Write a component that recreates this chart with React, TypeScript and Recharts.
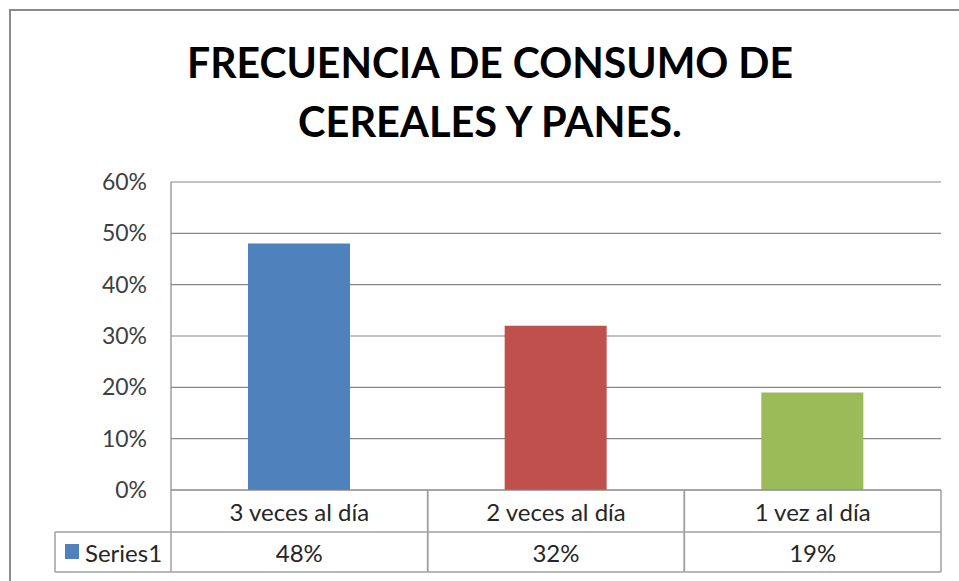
import { BarChart, Bar, XAxis, YAxis, CartesianGrid, Cell } from 'recharts';

const categories = ['3 veces al día', '2 veces al día', '1 vez al día'];
const values = [0.48, 0.32, 0.19];
const barColors = ['#4F81BD', '#C0504D', '#9BBB59'];
const yTicks = [0, 0.1, 0.2, 0.3, 0.4, 0.5, 0.6];
const seriesName = 'Series1';
const titleLines = ['FRECUENCIA DE CONSUMO DE', 'CEREALES Y PANES.'];

const data = categories.map((name, i) => ({ name, value: values[i] }));

const W = 959;
const H = 581;
const PLOT_LEFT = 171;
const PLOT_RIGHT = 941;
const PLOT_TOP = 182;
const PLOT_BOTTOM = 490;
const ROW1 = 532;
const ROW2 = 572;
const LEGEND_LEFT = 55;
const FONT = 'Lato, "Open Sans", sans-serif';
const TABLE_LINE = '#a0a0a0';
const TABLE_FONT = 24;

const pct = (v: number) => `${Math.round(v * 100)}%`;

// one column of the data table under each category
function TableTick(props: any) {
  const { x, payload } = props;
  const idx = payload.index;
  const w = (PLOT_RIGHT - PLOT_LEFT) / categories.length;
  const left = x - w / 2;
  const right = x + w / 2;
  return (
    <g>
      <line x1={left} y1={PLOT_BOTTOM} x2={left} y2={ROW2} stroke={TABLE_LINE} strokeWidth={1.5} />
      <line x1={right} y1={PLOT_BOTTOM} x2={right} y2={ROW2} stroke={TABLE_LINE} strokeWidth={1.5} />
      <line x1={left} y1={ROW1} x2={right} y2={ROW1} stroke={TABLE_LINE} strokeWidth={1.5} />
      <line x1={left} y1={ROW2} x2={right} y2={ROW2} stroke={TABLE_LINE} strokeWidth={1.5} />
      <text x={x} y={511} textAnchor="middle" dominantBaseline="central" fontFamily={FONT} fontSize={TABLE_FONT} fill="#262626">
        {payload.value}
      </text>
      <text x={x} y={552} textAnchor="middle" dominantBaseline="central" fontFamily={FONT} fontSize={TABLE_FONT} fill="#262626">
        {pct(values[idx])}
      </text>
      {idx === 0 && (
        <g>
          <line x1={LEGEND_LEFT} y1={ROW1} x2={left} y2={ROW1} stroke={TABLE_LINE} strokeWidth={1.5} />
          <line x1={LEGEND_LEFT} y1={ROW2} x2={left} y2={ROW2} stroke={TABLE_LINE} strokeWidth={1.5} />
          <line x1={LEGEND_LEFT} y1={ROW1} x2={LEGEND_LEFT} y2={ROW2} stroke={TABLE_LINE} strokeWidth={1.5} />
          <rect x={65} y={544} width={14} height={15} fill={barColors[0]} />
          <text x={85} y={552} dominantBaseline="central" fontFamily={FONT} fontSize={TABLE_FONT} fill="#262626">
            {seriesName}
          </text>
        </g>
      )}
    </g>
  );
}

export default function App() {
  return (
    <div style={{ position: 'absolute', left: 0, top: 0, width: W, height: H, background: '#fff', overflow: 'hidden' }}>
      <div
        style={{
          position: 'absolute',
          left: 9,
          top: 9,
          width: W,
          height: H,
          borderLeft: '2px solid #8a8a8a',
          borderTop: '2px solid #8a8a8a',
        }}
      />
      <svg width={W} height={160} style={{ position: 'absolute', left: 0, top: 0 }}>
        <text x={490} y={78} textAnchor="middle" fontFamily={FONT} fontWeight="bold" fontSize={42} fill="#000" textLength={606} lengthAdjust="spacingAndGlyphs">
          {titleLines[0]}
        </text>
        <text x={490} y={137} textAnchor="middle" fontFamily={FONT} fontWeight="bold" fontSize={42} fill="#000" textLength={384} lengthAdjust="spacingAndGlyphs">
          {titleLines[1]}
        </text>
      </svg>
      <div style={{ position: 'absolute', left: 0, top: 0 }}>
        <BarChart
          width={W}
          height={H}
          data={data}
          margin={{ top: PLOT_TOP, right: W - PLOT_RIGHT, bottom: 0, left: 0 }}
        >
          <CartesianGrid vertical={false} stroke="#878787" strokeWidth={1.2} />
          <XAxis
            dataKey="name"
            height={H - PLOT_BOTTOM}
            axisLine={{ stroke: '#878787' }}
            tickLine={false}
            tick={<TableTick />}
            interval={0}
          />
          <YAxis
            width={PLOT_LEFT}
            domain={[0, 0.6]}
            ticks={yTicks}
            tickFormatter={pct}
            axisLine={{ stroke: '#878787', strokeWidth: 1.2 }}
            tickLine={false}
            tickMargin={18}
            tick={{ fill: '#404040', fontSize: 23, fontFamily: FONT }}
          />
          <Bar dataKey="value" barSize={102} isAnimationActive={false}>
            {data.map((d, i) => (
              <Cell key={d.name} fill={barColors[i]} />
            ))}
          </Bar>
        </BarChart>
      </div>
    </div>
  );
}
